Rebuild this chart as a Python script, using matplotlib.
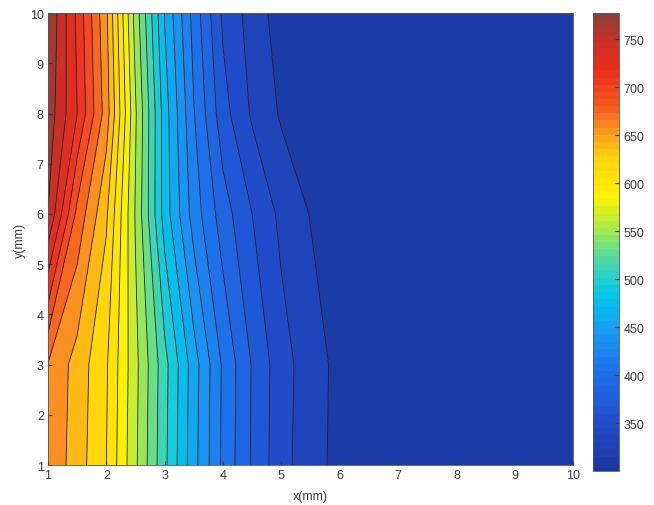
import matplotlib
matplotlib.use("Agg")
import matplotlib.pyplot as plt
from matplotlib.colors import LinearSegmentedColormap, Normalize
from matplotlib.cm import ScalarMappable
import numpy as np

plt.rcParams['font.family'] = ['Liberation Sans', 'DejaVu Sans']

# measurement grid (mm)
x_mm = [1, 1.5, 2, 2.5, 3, 3.5, 4, 4.5, 5, 5.5, 6, 7, 8, 9, 10]
y_mm = [1, 3, 6, 8, 10]

# temperature along each row of the grid, left to right
temp_y1 = [664, 639, 612, 560, 506, 453, 406, 371, 343, 326, 312.5, 309, 306, 303, 300]
temp_y3 = [666, 641, 614, 562, 508, 455, 407, 372, 344, 327, 313, 309, 306, 303, 301]
temp_y6 = [758, 680, 633, 555, 475, 420, 382, 355, 332, 317.5, 314, 310, 306, 303, 300]
temp_y8 = [770, 722, 658, 559, 474, 411, 362, 334, 316, 311, 309, 307, 305, 302, 300]
temp_y10 = [777, 718, 652, 549, 464, 403, 351.5, 328.7, 309.4, 308, 307, 306, 304, 302, 300]

cbar_ticks = [350, 400, 450, 500, 550, 600, 650, 700, 750]

Z = np.array([temp_y1, temp_y3, temp_y6, temp_y8, temp_y10])
X, Y = np.meshgrid(x_mm, y_mm)
zmin, zmax = Z.min(), Z.max()
levels = np.linspace(zmin, zmax, 27)

# jet-like map, a little washed out like a printed figure
jet_soft = LinearSegmentedColormap.from_list("jet_soft", [
    (0.00, (0.11, 0.22, 0.63)),
    (0.10, (0.13, 0.30, 0.80)),
    (0.22, (0.12, 0.45, 0.93)),
    (0.30, (0.10, 0.60, 0.95)),
    (0.38, (0.00, 0.78, 0.93)),
    (0.46, (0.30, 0.85, 0.65)),
    (0.53, (0.65, 0.92, 0.30)),
    (0.60, (1.00, 0.95, 0.00)),
    (0.69, (1.00, 0.82, 0.05)),
    (0.75, (0.98, 0.58, 0.12)),
    (0.80, (0.97, 0.35, 0.12)),
    (0.88, (0.93, 0.18, 0.12)),
    (0.95, (0.78, 0.18, 0.15)),
    (1.00, (0.55, 0.25, 0.22)),
])

txt = "#3c3c3c"
fig = plt.figure(figsize=(6.54, 5.06), dpi=100)
ax = fig.add_axes([0.0734, 0.079, 0.803, 0.893])
norm = Normalize(zmin, zmax)
ax.contourf(X, Y, Z, levels=levels, cmap=jet_soft, norm=norm)
ax.contour(X, Y, Z, levels=levels[1:-1], colors="#222222", linewidths=0.6)

ax.set_xlim(1, 10)
ax.set_ylim(1, 10)
ax.set_xticks(range(1, 11))
ax.set_yticks(range(1, 11))
ax.tick_params(direction="in", length=3, labelsize=9, colors=txt, pad=3)
ax.set_xlabel("x(mm)", fontsize=9, color=txt, labelpad=0)
ax.xaxis.set_label_coords(0.5, -0.055)
ax.set_ylabel("y(mm)", fontsize=9, color=txt, labelpad=3)
for s in ax.spines.values():
    s.set_color("#555555")
    s.set_linewidth(0.6)

cax = fig.add_axes([0.907, 0.067, 0.040, 0.905])
sm = ScalarMappable(norm=norm, cmap=jet_soft.resampled(64))
cb = fig.colorbar(sm, cax=cax, ticks=cbar_ticks)
cb.ax.tick_params(direction="in", length=3, labelsize=9, colors=txt, pad=3)
cb.outline.set_edgecolor("#555555")
cb.outline.set_linewidth(0.6)

fig.savefig("out.png", dpi=100)
